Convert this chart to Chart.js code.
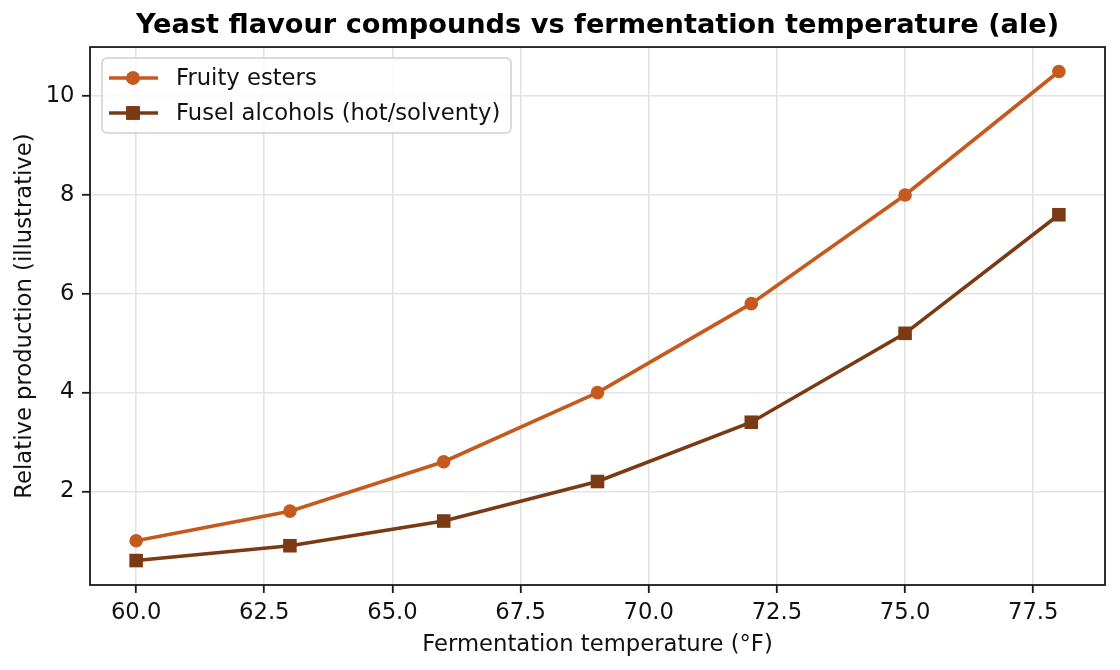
<!DOCTYPE html>
<html>
<head>
<meta charset="utf-8">
<script src="https://cdn.jsdelivr.net/npm/chart.js@4.4.0/dist/chart.umd.min.js"></script>
<style>
  html, body { margin: 0; padding: 0; background: #fff; }
  #wrap { width: 1120px; height: 670px; }
</style>
</head>
<body>
<div id="wrap"><canvas id="myChart" width="1120" height="670"></canvas></div>
<script>
// data
const temps = [60, 63, 66, 69, 72, 75, 78];
const esters = [1.0, 1.6, 2.6, 4.0, 5.8, 8.0, 10.5];
const fusels = [0.6, 0.9, 1.4, 2.2, 3.4, 5.2, 7.6];
const xTicks = [60, 62.5, 65, 67.5, 70, 72.5, 75, 77.5];
const yTicks = [2, 4, 6, 8, 10];

const orange = '#c55a1e';
const brown = '#7a3a14';
const font = 'DejaVu Sans';
const textSize = 22.7;

function points(ys) {
  return temps.map((t, i) => ({x: t, y: ys[i]}));
}

// full box around the plot, like matplotlib's spines
const frame = {
  id: 'frame',
  afterDraw(chart) {
    const {ctx, chartArea: a} = chart;
    ctx.save();
    ctx.strokeStyle = '#1a1a1a';
    ctx.lineWidth = 1.8;
    ctx.strokeRect(a.left, a.top, a.right - a.left, a.bottom - a.top);
    ctx.restore();
  }
};

// legend drawn inside the plot, upper left
const innerLegend = {
  id: 'innerLegend',
  afterDraw(chart) {
    const ctx = chart.ctx;
    const x0 = 102, y0 = 58, w = 409, h = 75, r = 5;
    ctx.save();
    ctx.fillStyle = 'rgba(255,255,255,0.8)';
    ctx.strokeStyle = '#d0d0d0';
    ctx.lineWidth = 1.5;
    ctx.beginPath();
    ctx.roundRect(x0, y0, w, h, r);
    ctx.fill();
    ctx.stroke();
    ctx.font = textSize + 'px "' + font + '"';
    ctx.textBaseline = 'middle';
    chart.data.datasets.forEach((ds, i) => {
      const cy = y0 + 20 + i * 35;
      ctx.strokeStyle = ds.borderColor;
      ctx.lineWidth = ds.borderWidth;
      ctx.beginPath();
      ctx.moveTo(109, cy);
      ctx.lineTo(158, cy);
      ctx.stroke();
      ctx.fillStyle = ds.borderColor;
      Chart.helpers.drawPoint(ctx, {
        pointStyle: ds.pointStyle, radius: ds.pointRadius, borderWidth: 0
      }, 133, cy);
      ctx.fill();
      ctx.fillStyle = '#111';
      ctx.fillText(ds.label, 176, cy + 1);
    });
    ctx.restore();
  }
};

new Chart(document.getElementById('myChart'), {
  type: 'line',
  data: {
    datasets: [{
      label: 'Fruity esters',
      data: points(esters),
      borderColor: orange,
      backgroundColor: orange,
      borderWidth: 3.6,
      pointStyle: 'circle',
      pointRadius: 6.8,
      pointBorderWidth: 0,
      tension: 0
    }, {
      label: 'Fusel alcohols (hot/solventy)',
      data: points(fusels),
      borderColor: brown,
      backgroundColor: brown,
      borderWidth: 3.6,
      pointStyle: 'rect',
      pointRadius: 9.6,
      pointBorderWidth: 0,
      tension: 0
    }]
  },
  options: {
    responsive: false,
    animation: false,
    layout: {
      padding: {left: 0, right: 15, top: 0, bottom: 0}
    },
    plugins: {
      legend: { display: false },
      tooltip: { enabled: false },
      title: {
        display: true,
        fullSize: false,
        text: 'Yeast flavour compounds vs fermentation temperature (ale)',
        color: '#000',
        font: { family: font, size: 27.2, weight: 'bold' },
        padding: { top: 9.7, bottom: 4.7 }
      }
    },
    scales: {
      x: {
        type: 'linear',
        min: 59.1,
        max: 78.9,
        afterFit(scale) { scale.height = 85; },
        afterBuildTicks(scale) { scale.ticks = xTicks.map(v => ({value: v})); },
        ticks: {
          color: '#111',
          font: { family: font, size: textSize },
          padding: 6.4,
          maxRotation: 0,
          callback: v => v.toFixed(1)
        },
        grid: {
          color: '#e3e3e3',
          lineWidth: 1.6,
          tickColor: '#1a1a1a',
          tickLength: 8,
          tickWidth: 1.8
        },
        border: { display: false },
        title: {
          display: true,
          text: 'Fermentation temperature (°F)',
          color: '#111',
          font: { family: font, size: textSize },
          padding: { top: 0, bottom: 11.5 }
        }
      },
      y: {
        type: 'linear',
        min: 0.105,
        max: 10.995,
        afterFit(scale) { scale.width = 90; },
        afterBuildTicks(scale) { scale.ticks = yTicks.map(v => ({value: v})); },
        ticks: {
          color: '#111',
          font: { family: font, size: textSize },
          padding: 7.5
        },
        grid: {
          color: '#e3e3e3',
          lineWidth: 1.6,
          tickColor: '#1a1a1a',
          tickLength: 8,
          tickWidth: 1.8
        },
        border: { display: false },
        title: {
          display: true,
          text: 'Relative production (illustrative)',
          color: '#111',
          font: { family: font, size: textSize },
          padding: { top: 11.4, bottom: 0 }
        }
      }
    }
  },
  plugins: [frame, innerLegend]
});
</script>
</body>
</html>
